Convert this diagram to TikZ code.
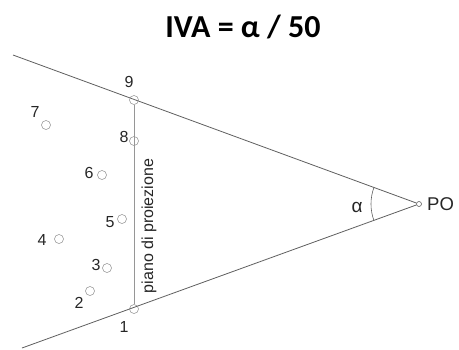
\documentclass[tikz,border=0pt]{standalone}
\usepackage{fontspec}
\setmainfont{Liberation Sans}
\newfontfamily\titlefont{Carlito}
\usetikzlibrary{positioning}
\definecolor{raygray}{RGB}{95,95,95}
\definecolor{planegray}{RGB}{150,150,150}
\definecolor{ptgray}{RGB}{140,140,140}

\begin{document}
\begin{tikzpicture}[
    x=1pt, y=-1pt,
    pnt/.style={circle, draw=ptgray, line width=0.5pt, inner sep=0pt, minimum size=9pt},
    num/.style={inner sep=0pt, text=black!85, font=\fontsize{16}{16}\selectfont},
    ray/.style={draw=raygray, line width=0.8pt},
  ]
    \useasboundingbox (0,0) rectangle (459,349);
    \node[font=\titlefont\bfseries\fontsize{32}{32}\selectfont] (title) at (243,27) {IVA = α / 50};

    % observation point and the two rays
    \node[circle, draw=raygray, line width=0.6pt, inner sep=0pt, minimum size=5pt] (po) at (419,204) {};
    \node[num, anchor=west, font=\fontsize{18.5}{18.5}\selectfont] (polbl) at (427,204.5) {PO};
    \coordinate (topend) at (13,55);
    \coordinate (botend) at (22,348);
    \draw[ray] (topend) -- (po);
    \draw[ray] (botend) -- (po);
    \draw[raygray, line width=0.6pt] (po.center) ++(160:48pt) arc[start angle=160, end angle=200, radius=48pt];
    \node[num, font=\fontsize{19}{19}\selectfont] (alpha) at (357,207) {α};

    % points
    \node[pnt] (p9) at (134,100) {};
    \node[pnt] (p8) at (134,141) {};
    \node[pnt] (p7) at (46,125) {};
    \node[pnt] (p6) at (102,175) {};
    \node[pnt] (p5) at (122,219) {};
    \node[pnt] (p4) at (59,239) {};
    \node[pnt] (p3) at (107,268) {};
    \node[pnt] (p2) at (90,291) {};
    \node[pnt] (p1) at (134,309) {};

    \node[num] (l9) at (129,82) {9};
    \node[num] (l8) at (124,137) {8};
    \node[num] (l7) at (35,112) {7};
    \node[num] (l6) at (89,173) {6};
    \node[num] (l5) at (110,222) {5};
    \node[num] (l4) at (42,240) {4};
    \node[num] (l3) at (96,265) {3};
    \node[num] (l2) at (79,303) {2};
    \node[num] (l1) at (124,327) {1};

    % projection plane
    \draw[planegray, line width=0.9pt] (p9) -- (p1);
    \node[num, rotate=90, font=\fontsize{16}{16}\selectfont] (plane) at (149,226) {piano di proiezione};
\end{tikzpicture}
\end{document}
